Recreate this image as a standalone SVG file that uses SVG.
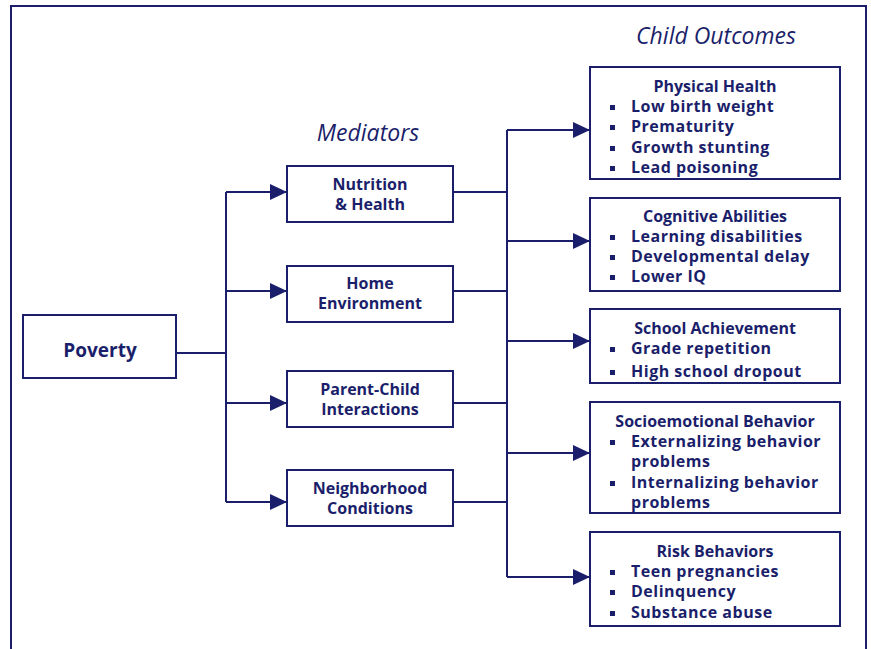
<svg xmlns="http://www.w3.org/2000/svg" width="871" height="649" viewBox="0 0 871 649">
  <defs>
    <style>
      .box { fill: #ffffff; stroke: #1b1f6b; stroke-width: 2; }
      .ln { fill: none; stroke: #1b1f6b; stroke-width: 2; }
      .t { font-family: "Open Sans", "Liberation Sans", sans-serif; font-weight: 700; fill: #1b1f6b; font-size: 16px; }
      .it { letter-spacing: 0.5px; }
      .ttl { text-anchor: middle; }
      .mid { text-anchor: middle; }
      .hdr { font-family: "Open Sans", "Liberation Sans", sans-serif; font-style: italic; font-size: 23px; fill: #1b1f6b; text-anchor: middle; }
      .bul { fill: #1b1f6b; }
    </style>
    <marker id="arr" markerUnits="userSpaceOnUse" markerWidth="17" markerHeight="16" refX="17" refY="8" orient="auto">
      <path d="M0,0 L17,8 L0,16 Z" fill="#1b1f6b"/>
    </marker>
  </defs>
  <rect width="871" height="649" fill="#ffffff"/>
  <path class="ln" d="M11,649 V6 H866 V649"/>

  <text class="hdr" x="716" y="44">Child Outcomes</text>
  <text class="hdr" x="368" y="141">Mediators</text>

  <g id="connectors">
    <path class="ln" d="M176,353 H226"/>
    <path class="ln" d="M226,192 V502"/>
    <path class="ln" d="M226,192 H287" marker-end="url(#arr)"/>
    <path class="ln" d="M226,291 H287" marker-end="url(#arr)"/>
    <path class="ln" d="M226,403 H287" marker-end="url(#arr)"/>
    <path class="ln" d="M226,502 H287" marker-end="url(#arr)"/>
    <path class="ln" d="M453,192 H507"/>
    <path class="ln" d="M453,291 H507"/>
    <path class="ln" d="M453,403 H507"/>
    <path class="ln" d="M453,502 H507"/>
    <path class="ln" d="M507,130 V577"/>
    <path class="ln" d="M507,130 H590" marker-end="url(#arr)"/>
    <path class="ln" d="M507,241 H590" marker-end="url(#arr)"/>
    <path class="ln" d="M507,341 H590" marker-end="url(#arr)"/>
    <path class="ln" d="M507,453 H590" marker-end="url(#arr)"/>
    <path class="ln" d="M507,577 H590" marker-end="url(#arr)"/>
  </g>

  <g id="poverty">
    <rect class="box" x="23" y="315" width="153" height="63"/>
    <text class="t mid" x="100" y="357" style="font-size:19px">Poverty</text>
  </g>

  <g id="nutrition">
    <rect class="box" x="287" y="166" width="166" height="56"/>
    <text class="t mid" x="370" y="190">Nutrition</text>
    <text class="t mid" x="370" y="210">&amp; Health</text>
  </g>
  <g id="home">
    <rect class="box" x="287" y="266" width="166" height="56"/>
    <text class="t mid" x="370" y="289">Home</text>
    <text class="t mid" x="370" y="309">Environment</text>
  </g>
  <g id="parent-child">
    <rect class="box" x="287" y="371" width="166" height="56"/>
    <text class="t mid" x="370" y="395">Parent-Child</text>
    <text class="t mid" x="370" y="415">Interactions</text>
  </g>
  <g id="neighborhood">
    <rect class="box" x="287" y="470" width="166" height="56"/>
    <text class="t mid" x="370" y="494">Neighborhood</text>
    <text class="t mid" x="370" y="514">Conditions</text>
  </g>

  <g id="physical-health">
    <rect class="box" x="590" y="67" width="250" height="112"/>
    <text class="t ttl" x="715" y="92">Physical Health</text>
    <rect class="bul" x="610" y="105" width="5" height="5"/>
    <rect class="bul" x="610" y="125" width="5" height="5"/>
    <rect class="bul" x="610" y="146" width="5" height="5"/>
    <rect class="bul" x="610" y="166" width="5" height="5"/>
    <text class="t it" x="631" y="112">Low birth weight</text>
    <text class="t it" x="631" y="132">Prematurity</text>
    <text class="t it" x="631" y="153">Growth stunting</text>
    <text class="t it" x="631" y="173">Lead poisoning</text>
  </g>

  <g id="cognitive-abilities">
    <rect class="box" x="590" y="198" width="250" height="93"/>
    <text class="t ttl" x="715" y="222">Cognitive Abilities</text>
    <rect class="bul" x="610" y="235" width="5" height="5"/>
    <rect class="bul" x="610" y="255" width="5" height="5"/>
    <rect class="bul" x="610" y="275" width="5" height="5"/>
    <text class="t it" x="631" y="242">Learning disabilities</text>
    <text class="t it" x="631" y="262">Developmental delay</text>
    <text class="t it" x="631" y="282">Lower IQ</text>
  </g>

  <g id="school-achievement">
    <rect class="box" x="590" y="309" width="250" height="74"/>
    <text class="t ttl" x="715" y="334">School Achievement</text>
    <rect class="bul" x="610" y="347" width="5" height="5"/>
    <rect class="bul" x="610" y="370" width="5" height="5"/>
    <text class="t it" x="631" y="354">Grade repetition</text>
    <text class="t it" x="631" y="377">High school dropout</text>
  </g>

  <g id="socioemotional-behavior">
    <rect class="box" x="590" y="402" width="250" height="111"/>
    <text class="t ttl" x="715" y="427">Socioemotional Behavior</text>
    <rect class="bul" x="610" y="440" width="5" height="5"/>
    <rect class="bul" x="610" y="481" width="5" height="5"/>
    <text class="t it" x="631" y="447">Externalizing behavior</text>
    <text class="t it" x="631" y="467">problems</text>
    <text class="t it" x="631" y="488">Internalizing behavior</text>
    <text class="t it" x="631" y="508">problems</text>
  </g>

  <g id="risk-behaviors">
    <rect class="box" x="590" y="532" width="250" height="94"/>
    <text class="t ttl" x="715" y="557">Risk Behaviors</text>
    <rect class="bul" x="610" y="570" width="5" height="5"/>
    <rect class="bul" x="610" y="590" width="5" height="5"/>
    <rect class="bul" x="610" y="611" width="5" height="5"/>
    <text class="t it" x="631" y="577">Teen pregnancies</text>
    <text class="t it" x="631" y="597">Delinquency</text>
    <text class="t it" x="631" y="618">Substance abuse</text>
  </g>
</svg>
